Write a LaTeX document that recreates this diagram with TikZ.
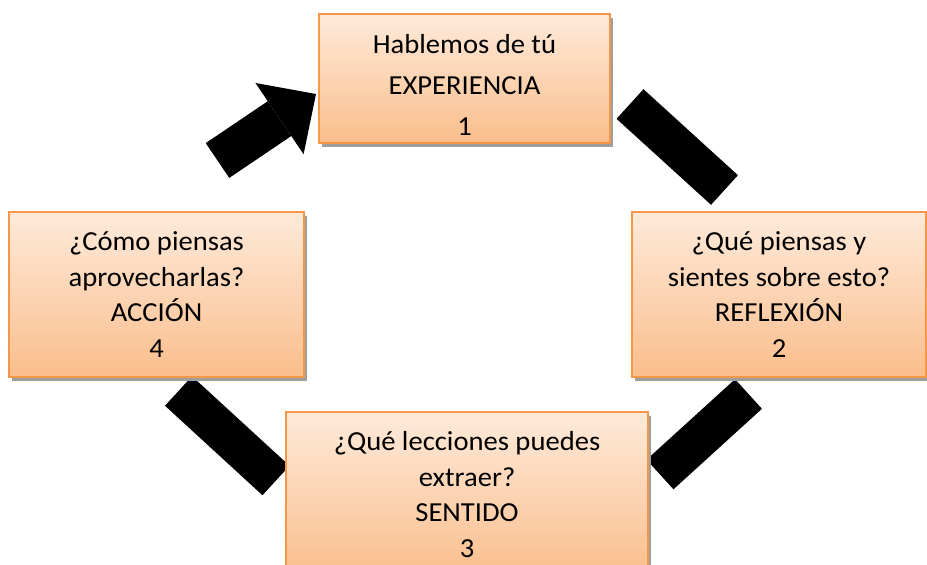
\documentclass[tikz,border=0pt]{standalone}
\usepackage{fontspec}
\setmainfont{Carlito}[FakeStretch=1.04]
\usetikzlibrary{arrows.meta,shadows,positioning}
\definecolor{borde}{RGB}{247,150,70}
\definecolor{claro}{RGB}{254,234,218}
\definecolor{oscuro}{RGB}{250,190,140}
\tikzset{
	caja/.style = {rectangle, draw=borde, line width=1.5pt, top color=claro,
		bottom color=oscuro, align=center, inner sep=0pt,
		minimum width=294pt, minimum height=165pt,
		font=\fontsize{27.5}{35.5}\selectfont,
		general shadow={fill=black!38, shadow xshift=3pt, shadow yshift=-4pt}},
	barra/.style = {black, line width=40pt}
}

\begin{document}
\begin{tikzpicture}[x=1pt,y=-1pt]
\useasboundingbox (0,0) rectangle (927,565);
\clip (0,0) rectangle (927,565);
% barras
\coordinate (a41) at (217.5,160.5);
\coordinate (b41) at (316,94);
\coordinate (a12) at (630,104);
\coordinate (b12) at (724.5,190);
\coordinate (a23) at (748.5,394);
\coordinate (b23) at (660,474.5);
\coordinate (a34) at (276,480.5);
\coordinate (b34) at (178.5,391);
\draw[barra, line width=42pt, -{Triangle[length=44pt,width=86pt,line width=0pt]}] (a41) -- (b41);
\draw[barra] (a12) -- (b12);
\draw[barra] (a23) -- (b23);
\draw[barra] (a34) -- (b34);
% cajas
\node[caja, minimum width=291pt, minimum height=129pt,
	font=\fontsize{27.5}{41}\selectfont] (exp) at (464.5,78.5)
	{\rule{0pt}{31pt}Hablemos de tú\\EXPERIENCIA\\1};
\node[caja] (ref) at (779,294.5)
	{¿Qué piensas y\\sientes sobre esto?\\REFLEXIÓN\\2};
\node[caja, minimum width=362pt] (sen) at (467,494.5)
	{¿Qué lecciones puedes\\extraer?\\SENTIDO\\3};
\node[caja, minimum width=295pt] (acc) at (156.5,294.5)
	{¿Cómo piensas\\aprovecharlas?\\ACCIÓN\\4};
\end{tikzpicture}
\end{document}
